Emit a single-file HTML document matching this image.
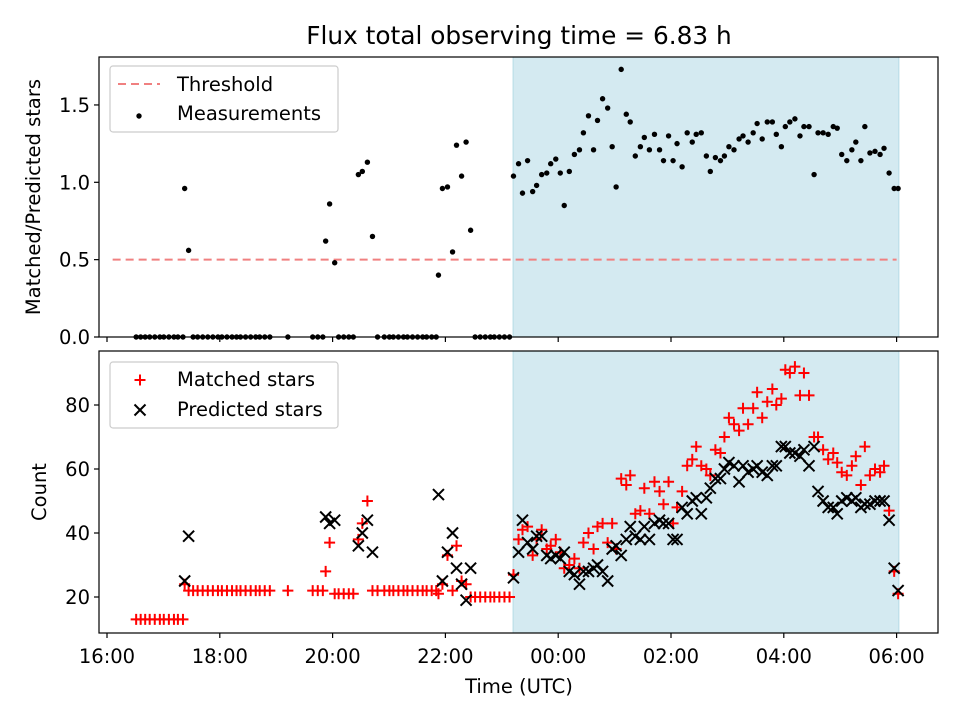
<!DOCTYPE html>
<html><head><meta charset="utf-8"><style>
body{margin:0;background:#fff;}
svg text{font-family:"DejaVu Sans","Liberation Sans",sans-serif;fill:#000;}
</style></head><body>
<svg id="c" width="960" height="720" xmlns="http://www.w3.org/2000/svg"></svg>
<script>
const hours=[0.57,0.65,0.73,0.81,0.90,0.99,1.06,1.15,1.24,1.31,1.40,1.43,1.50,1.58,1.66,1.75,1.84,1.93,2.02,2.09,2.18,2.27,2.35,2.42,2.51,2.60,2.69,2.76,2.85,2.94,3.26,3.70,3.79,3.88,3.93,4.00,4.09,4.16,4.25,4.34,4.42,4.51,4.58,4.67,4.76,4.85,4.97,5.06,5.13,5.22,5.31,5.38,5.47,5.56,5.65,5.72,5.81,5.89,5.93,6.00,6.09,6.18,6.25,6.34,6.42,6.50,6.58,6.67,6.76,6.85,6.92,7.01,7.10,7.19,
7.26,7.35,7.42,7.51,7.60,7.67,7.76,7.85,7.92,8.01,8.09,8.16,8.25,8.34,8.43,8.50,8.59,8.68,8.75,8.84,8.93,9.01,9.08,9.17,9.26,9.33,9.42,9.51,9.58,9.67,9.76,9.85,9.92,10.01,10.09,10.16,10.25,10.34,10.43,10.50,10.59,10.68,10.75,10.84,10.93,11.00,11.08,11.17,11.26,11.33,11.42,11.51,11.58,11.67,11.76,11.85,11.92,12.01,12.08,12.16,12.25,12.34,12.41,12.50,12.59,12.66,12.75,12.84,12.93,13.00,13.08,13.17,13.26,13.33,13.42,13.49,13.58,13.67,13.76,13.83,13.92,14.01,14.08];
const flux=[0,0,0,0,0,0,0,0,0,0,0,0.96,0.56,0,0,0,0,0,0,0,0,0,0,0,0,0,0,0,0,0,0,0,0,0,0.62,0.86,0.48,0,0,0,0,1.05,1.07,1.13,0.65,0,0,0,0,0,0,0,0,0,0,0,0,0,0.40,0.96,0.97,0.55,1.24,1.04,1.26,0.69,0,0,0,0,0,0,0,0,
1.04,1.12,0.93,1.14,0.94,0.98,1.05,1.06,1.12,1.15,1.06,0.85,1.07,1.18,1.21,1.32,1.43,1.21,1.40,1.54,1.48,1.23,0.97,1.73,1.44,1.39,1.17,1.23,1.29,1.21,1.31,1.21,1.14,1.30,1.14,1.25,1.10,1.32,1.26,1.31,1.32,1.17,1.07,1.16,1.14,1.17,1.23,1.21,1.28,1.30,1.26,1.32,1.38,1.28,1.39,1.39,1.31,1.23,1.36,1.39,1.41,1.30,1.36,1.36,1.05,1.32,1.32,1.31,1.36,1.35,1.18,1.14,1.21,1.26,1.14,1.36,1.19,1.20,1.18,1.22,1.06,0.96,0.96];
const matched=[13,13,13,13,13,13,13,13,13,13,13,24,22,22,22,22,22,22,22,22,22,22,22,22,22,22,22,22,22,22,22,22,22,22,28,37,21,21,21,21,21,38,43,50,22,22,22,22,22,22,22,22,22,22,22,22,22,22,21,24,33,22,36,25,24,20,20,20,20,20,20,20,20,20,
27,38,41,42,33,38,41,35,36,38,34,29,30,32,29,37,40,35,42,43,37,43,35,57,55,58,46,47,54,46,56,53,49,56,43,48,53,61,63,67,61,60,58,66,65,70,76,74,72,79,74,79,84,76,81,85,80,82,91,90,92,83,90,83,70,70,66,63,65,62,59,58,61,64,55,67,58,60,59,61,47,28,21];
const predicted=[null,null,null,null,null,null,null,null,null,null,null,25,39,null,null,null,null,null,null,null,null,null,null,null,null,null,null,null,null,null,null,null,null,null,45,43,44,null,null,null,null,36,40,44,34,null,null,null,null,null,null,null,null,null,null,null,null,null,52,25,34,40,29,24,19,29,null,null,null,null,null,null,null,null,
26,34,44,37,35,39,39,33,32,33,32,34,28,27,24,28,28,29,30,28,25,35,36,33,38,42,39,38,42,38,43,44,43,43,38,38,48,46,50,51,46,51,54,57,57,60,62,61,56,61,59,60,61,59,58,61,61,67,67,65,65,64,66,61,67,53,50,48,48,46,50,51,50,51,48,49,49,50,50,50,44,29,22];
const xTicks=[0,2,4,6,8,10,12,14];
const xTickLabels=["16:00","18:00","20:00","22:00","00:00","02:00","04:00","06:00"];
const fluxTicks=[0,0.5,1.0,1.5];
const fluxTickLabels=["0.0","0.5","1.0","1.5"];
const countTicks=[20,40,60,80];
const threshold=0.5, thrStart=0.1, thrEnd=14.0;
const spanStart=7.2, spanEnd=14.04;
const timeOffset=-0.053; // calibration of read-off times

const NS="http://www.w3.org/2000/svg";
const svg=document.getElementById('c');
function el(tag,attrs,parent){const e=document.createElementNS(NS,tag);for(const k in attrs)e.setAttribute(k,attrs[k]);(parent||svg).appendChild(e);return e;}
const L=99,R=938;
const X=t=>107+t*56.4;
const XD=t=>X(t+timeOffset);
const T1=57,B1=337, T2=351,B2=633;
const Y1=v=>337-v*154.7;
const Y2=v=>597-(v-20)*3.2;
const FS=19.5;

let t=el('text',{x:519,y:44,'text-anchor':'middle','font-size':'24.8'});t.textContent='Flux total observing time = 6.83 h';



function panel(top,bot,name){
  const g=el('g',{});
  
  
  const sp=el('rect',{x:X(spanStart),y:top,width:X(spanEnd)-X(spanStart),height:bot-top,fill:'#d4eaf1',stroke:'#b5dbe6','stroke-width':1},g);
  
  
  return g;
}
function frame(g,top,bot,labels){
  el('rect',{x:L,y:top,width:R-L,height:bot-top,fill:'none',stroke:'#000','stroke-width':1.2},g);
  xTicks.forEach((v,i)=>{
    el('line',{x1:X(v),x2:X(v),y1:bot,y2:bot+5,stroke:'#000','stroke-width':1.2},g);
    if(labels){const tx=el('text',{x:X(v),y:bot+30,'text-anchor':'middle','font-size':FS},g);tx.textContent=xTickLabels[i];
      
      }
  });
}
const g1=panel(T1,B1,'flux-panel');
const thr=el('line',{x1:X(thrStart),x2:X(thrEnd),y1:Y1(threshold),y2:Y1(threshold),stroke:'#f08080','stroke-width':2,'stroke-dasharray':'8,5'},g1);


hours.forEach((h,i)=>{const c=el('circle',{cx:XD(h),cy:Y1(flux[i]),r:2.7,fill:'#000'},g1);
  
  });
frame(g1,T1,B1,false);
fluxTicks.forEach((v,i)=>{el('line',{x1:L,x2:L-5,y1:Y1(v),y2:Y1(v),stroke:'#000','stroke-width':1.2},g1);
  const tx=el('text',{x:L-9,y:Y1(v)+7,'text-anchor':'end','font-size':FS},g1);tx.textContent=fluxTickLabels[i];
  
  });
t=el('text',{x:0,y:0,'text-anchor':'middle','font-size':FS,transform:'translate(40,197) rotate(-90)'});t.textContent='Matched/Predicted stars';



const g2=panel(T2,B2,'count-panel');
function plus(x,y,g){return el('path',{d:`M${x-5.5} ${y}H${x+5.5}M${x} ${y-5.5}V${y+5.5}`,stroke:'#f00','stroke-width':2,fill:'none'},g);}
function cross(x,y,g){return el('path',{d:`M${x-5.5} ${y-5.5}L${x+5.5} ${y+5.5}M${x-5.5} ${y+5.5}L${x+5.5} ${y-5.5}`,stroke:'#000','stroke-width':2,fill:'none'},g);}
hours.forEach((h,i)=>{const p=plus(XD(h),Y2(matched[i]),g2);
  
  });
hours.forEach((h,i)=>{if(predicted[i]==null)return;const p=cross(XD(h),Y2(predicted[i]),g2);
  
  });
frame(g2,T2,B2,true);
countTicks.forEach(v=>{el('line',{x1:L,x2:L-5,y1:Y2(v),y2:Y2(v),stroke:'#000','stroke-width':1.2},g2);
  const tx=el('text',{x:L-9,y:Y2(v)+7,'text-anchor':'end','font-size':FS},g2);tx.textContent=String(v);
  
  });
t=el('text',{x:0,y:0,'text-anchor':'middle','font-size':FS,transform:'translate(46,492) rotate(-90)'});t.textContent='Count';


t=el('text',{x:519,y:693,'text-anchor':'middle','font-size':FS});t.textContent='Time (UTC)';



function legend(y0,name){const g=el('g',{});
  
  
  el('rect',{x:110,y:y0,width:228,height:66,rx:3,fill:'#fff','fill-opacity':0.8,stroke:'#ccc','stroke-width':1.2},g);return g;}
const lg1=legend(66,'flux-legend');
el('line',{x1:118,x2:160,y1:84,y2:84,stroke:'#f08080','stroke-width':2,'stroke-dasharray':'8,5'},lg1);
t=el('text',{x:177,y:91,'font-size':FS},lg1);t.textContent='Threshold';
el('circle',{cx:139,cy:116,r:2.7,fill:'#000'},lg1);
t=el('text',{x:177,y:120,'font-size':FS},lg1);t.textContent='Measurements';
const lg2=legend(362,'count-legend');
plus(140,380,lg2);
t=el('text',{x:177,y:386,'font-size':FS},lg2);t.textContent='Matched stars';
cross(140,410,lg2);
t=el('text',{x:177,y:416,'font-size':FS},lg2);t.textContent='Predicted stars';
</script>
</body></html>
